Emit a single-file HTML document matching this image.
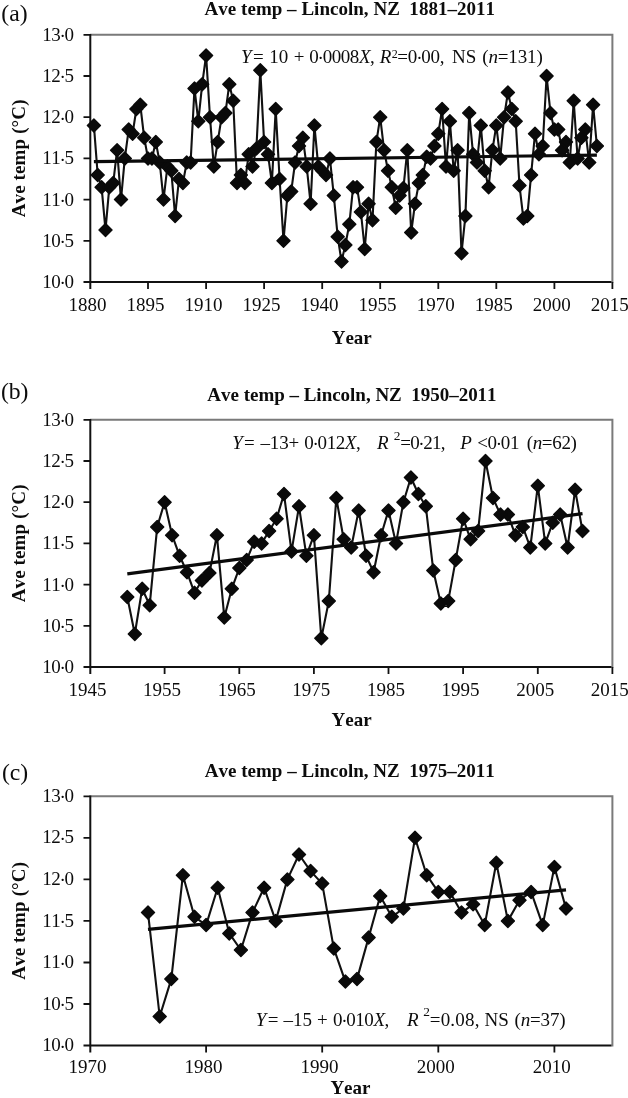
<!DOCTYPE html>
<html lang="en"><head><meta charset="utf-8"><title>Ave temp - Lincoln, NZ</title>
<style>
html,body{margin:0;padding:0;background:#fff;overflow:hidden;}
svg{display:block;}
text{font-family:"Liberation Serif",serif;fill:#0c0c0c;font-kerning:none;}
.tk{font-size:19px;}
.b{font-weight:bold;font-size:19px;}
.tag{font-size:23.7px;}
.eq{font-size:19px;}
.supa{font-size:12px;}
.supb{font-size:13.4px;}
.i{font-style:italic;}
</style></head><body>
<svg width="628" height="1098" viewBox="0 0 628 1098">
<rect width="628" height="1098" fill="#fff"/>
<g><path d="M90.0 34.8H612.4V283.0" fill="none" stroke="#7a7a7a" stroke-width="2" stroke-linejoin="miter"/>
<path d="M90.3 34.0V289.0" fill="none" stroke="#111" stroke-width="2"/>
<path d="M83.5 282.0H611.5" fill="none" stroke="#111" stroke-width="2"/>
<text class="tk" x="42.3" y="40.7" textLength="31.6">13<tspan dx="-0.79" dy="1.4">·</tspan><tspan dx="-0.79" dy="-1.4">0</tspan></text>
<text class="tk" x="42.3" y="81.9" textLength="31.6">12<tspan dx="-0.79" dy="1.4">·</tspan><tspan dx="-0.79" dy="-1.4">5</tspan></text>
<text class="tk" x="42.3" y="123.1" textLength="31.6">12<tspan dx="-0.79" dy="1.4">·</tspan><tspan dx="-0.79" dy="-1.4">0</tspan></text>
<text class="tk" x="42.3" y="164.3" textLength="31.6">11<tspan dx="-0.79" dy="1.4">·</tspan><tspan dx="-0.79" dy="-1.4">5</tspan></text>
<text class="tk" x="42.3" y="205.5" textLength="31.6">11<tspan dx="-0.79" dy="1.4">·</tspan><tspan dx="-0.79" dy="-1.4">0</tspan></text>
<text class="tk" x="42.3" y="246.7" textLength="31.6">10<tspan dx="-0.79" dy="1.4">·</tspan><tspan dx="-0.79" dy="-1.4">5</tspan></text>
<text class="tk" x="42.3" y="287.9" textLength="31.6">10<tspan dx="-0.79" dy="1.4">·</tspan><tspan dx="-0.79" dy="-1.4">0</tspan></text>
<text class="tk" x="87.4" y="311.0" text-anchor="middle">1880</text>
<text class="tk" x="145.4" y="311.0" text-anchor="middle">1895</text>
<text class="tk" x="203.5" y="311.0" text-anchor="middle">1910</text>
<text class="tk" x="261.5" y="311.0" text-anchor="middle">1925</text>
<text class="tk" x="319.6" y="311.0" text-anchor="middle">1940</text>
<text class="tk" x="377.6" y="311.0" text-anchor="middle">1955</text>
<text class="tk" x="435.7" y="311.0" text-anchor="middle">1970</text>
<text class="tk" x="493.7" y="311.0" text-anchor="middle">1985</text>
<text class="tk" x="551.8" y="311.0" text-anchor="middle">2000</text>
<text class="tk" x="609.8" y="311.0" text-anchor="middle">2015</text>
<path d="M83.5 34.8H90.0M83.5 76.0H90.0M83.5 117.2H90.0M83.5 158.4H90.0M83.5 199.6H90.0M83.5 240.8H90.0M148.0 282.0V289.0M206.1 282.0V289.0M264.1 282.0V289.0M322.2 282.0V289.0M380.2 282.0V289.0M438.3 282.0V289.0M496.3 282.0V289.0M554.4 282.0V289.0M612.4 282.0V289.0" fill="none" stroke="#111" stroke-width="1.8"/>
<polyline points="93.9,125.4 97.7,174.9 101.6,187.2 105.5,230.1 109.3,187.2 113.2,183.1 117.1,150.2 121.0,199.6 124.8,158.4 128.7,129.6 132.6,133.7 136.4,109.0 140.3,104.8 144.2,137.8 148.0,158.4 151.9,158.4 155.8,141.9 159.7,162.5 163.5,199.6 167.4,166.6 171.3,170.8 175.1,216.1 179.0,179.0 182.9,183.1 186.7,162.5 190.6,162.5 194.5,88.4 198.3,121.3 202.2,84.2 206.1,55.4 210.0,117.2 213.8,166.6 217.7,141.9 221.6,117.2 225.4,113.1 229.3,84.2 233.2,100.7 237.0,183.1 240.9,174.9 244.8,183.1 248.7,154.3 252.5,166.6 256.4,148.5 260.3,70.2 264.1,141.9 268.0,154.3 271.9,183.1 275.7,109.0 279.6,179.0 283.5,240.8 287.4,195.5 291.2,191.4 295.1,162.5 299.0,146.0 302.8,137.8 306.7,166.6 310.6,203.7 314.4,125.4 318.3,166.6 322.2,170.8 326.0,174.9 329.9,158.4 333.8,195.5 337.7,236.7 341.5,261.4 345.4,244.9 349.3,224.3 353.1,187.2 357.0,187.2 360.9,212.0 364.7,249.0 368.6,203.7 372.5,220.2 376.4,141.9 380.2,117.2 384.1,150.2 388.0,170.8 391.8,187.2 395.7,207.8 399.6,195.5 403.4,188.1 407.3,150.2 411.2,232.6 415.0,203.7 418.9,183.1 422.8,174.9 426.7,156.8 430.5,158.4 434.4,146.0 438.3,133.7 442.1,109.0 446.0,166.6 449.9,121.3 453.7,170.8 457.6,150.2 461.5,253.2 465.4,216.1 469.2,113.1 473.1,154.3 477.0,162.5 480.8,125.4 484.7,170.8 488.6,187.2 492.4,150.2 496.3,125.4 500.2,158.4 504.1,117.2 507.9,92.5 511.8,109.0 515.7,121.3 519.5,185.6 523.4,218.6 527.3,216.1 531.1,174.9 535.0,133.7 538.9,154.3 542.7,146.0 546.6,76.0 550.5,113.1 554.4,129.6 558.2,129.6 562.1,150.2 566.0,141.9 569.8,162.5 573.7,100.7 577.6,158.4 581.4,137.8 585.3,129.6 589.2,162.5 593.1,104.8 596.9,146.0" fill="none" stroke="#111" stroke-width="2.1" stroke-linejoin="round"/>
<path d="M93.9 118.9l6.5 6.5l-6.5 6.5l-6.5 -6.5zM97.7 168.4l6.5 6.5l-6.5 6.5l-6.5 -6.5zM101.6 180.7l6.5 6.5l-6.5 6.5l-6.5 -6.5zM105.5 223.6l6.5 6.5l-6.5 6.5l-6.5 -6.5zM109.3 180.7l6.5 6.5l-6.5 6.5l-6.5 -6.5zM113.2 176.6l6.5 6.5l-6.5 6.5l-6.5 -6.5zM117.1 143.7l6.5 6.5l-6.5 6.5l-6.5 -6.5zM121.0 193.1l6.5 6.5l-6.5 6.5l-6.5 -6.5zM124.8 151.9l6.5 6.5l-6.5 6.5l-6.5 -6.5zM128.7 123.1l6.5 6.5l-6.5 6.5l-6.5 -6.5zM132.6 127.2l6.5 6.5l-6.5 6.5l-6.5 -6.5zM136.4 102.5l6.5 6.5l-6.5 6.5l-6.5 -6.5zM140.3 98.3l6.5 6.5l-6.5 6.5l-6.5 -6.5zM144.2 131.3l6.5 6.5l-6.5 6.5l-6.5 -6.5zM148.0 151.9l6.5 6.5l-6.5 6.5l-6.5 -6.5zM151.9 151.9l6.5 6.5l-6.5 6.5l-6.5 -6.5zM155.8 135.4l6.5 6.5l-6.5 6.5l-6.5 -6.5zM159.7 156.0l6.5 6.5l-6.5 6.5l-6.5 -6.5zM163.5 193.1l6.5 6.5l-6.5 6.5l-6.5 -6.5zM167.4 160.1l6.5 6.5l-6.5 6.5l-6.5 -6.5zM171.3 164.3l6.5 6.5l-6.5 6.5l-6.5 -6.5zM175.1 209.6l6.5 6.5l-6.5 6.5l-6.5 -6.5zM179.0 172.5l6.5 6.5l-6.5 6.5l-6.5 -6.5zM182.9 176.6l6.5 6.5l-6.5 6.5l-6.5 -6.5zM186.7 156.0l6.5 6.5l-6.5 6.5l-6.5 -6.5zM190.6 156.0l6.5 6.5l-6.5 6.5l-6.5 -6.5zM194.5 81.9l6.5 6.5l-6.5 6.5l-6.5 -6.5zM198.3 114.8l6.5 6.5l-6.5 6.5l-6.5 -6.5zM202.2 77.7l6.5 6.5l-6.5 6.5l-6.5 -6.5zM206.1 48.9l6.5 6.5l-6.5 6.5l-6.5 -6.5zM210.0 110.7l6.5 6.5l-6.5 6.5l-6.5 -6.5zM213.8 160.1l6.5 6.5l-6.5 6.5l-6.5 -6.5zM217.7 135.4l6.5 6.5l-6.5 6.5l-6.5 -6.5zM221.6 110.7l6.5 6.5l-6.5 6.5l-6.5 -6.5zM225.4 106.6l6.5 6.5l-6.5 6.5l-6.5 -6.5zM229.3 77.7l6.5 6.5l-6.5 6.5l-6.5 -6.5zM233.2 94.2l6.5 6.5l-6.5 6.5l-6.5 -6.5zM237.0 176.6l6.5 6.5l-6.5 6.5l-6.5 -6.5zM240.9 168.4l6.5 6.5l-6.5 6.5l-6.5 -6.5zM244.8 176.6l6.5 6.5l-6.5 6.5l-6.5 -6.5zM248.7 147.8l6.5 6.5l-6.5 6.5l-6.5 -6.5zM252.5 160.1l6.5 6.5l-6.5 6.5l-6.5 -6.5zM256.4 142.0l6.5 6.5l-6.5 6.5l-6.5 -6.5zM260.3 63.7l6.5 6.5l-6.5 6.5l-6.5 -6.5zM264.1 135.4l6.5 6.5l-6.5 6.5l-6.5 -6.5zM268.0 147.8l6.5 6.5l-6.5 6.5l-6.5 -6.5zM271.9 176.6l6.5 6.5l-6.5 6.5l-6.5 -6.5zM275.7 102.5l6.5 6.5l-6.5 6.5l-6.5 -6.5zM279.6 172.5l6.5 6.5l-6.5 6.5l-6.5 -6.5zM283.5 234.3l6.5 6.5l-6.5 6.5l-6.5 -6.5zM287.4 189.0l6.5 6.5l-6.5 6.5l-6.5 -6.5zM291.2 184.9l6.5 6.5l-6.5 6.5l-6.5 -6.5zM295.1 156.0l6.5 6.5l-6.5 6.5l-6.5 -6.5zM299.0 139.5l6.5 6.5l-6.5 6.5l-6.5 -6.5zM302.8 131.3l6.5 6.5l-6.5 6.5l-6.5 -6.5zM306.7 160.1l6.5 6.5l-6.5 6.5l-6.5 -6.5zM310.6 197.2l6.5 6.5l-6.5 6.5l-6.5 -6.5zM314.4 118.9l6.5 6.5l-6.5 6.5l-6.5 -6.5zM318.3 160.1l6.5 6.5l-6.5 6.5l-6.5 -6.5zM322.2 164.3l6.5 6.5l-6.5 6.5l-6.5 -6.5zM326.0 168.4l6.5 6.5l-6.5 6.5l-6.5 -6.5zM329.9 151.9l6.5 6.5l-6.5 6.5l-6.5 -6.5zM333.8 189.0l6.5 6.5l-6.5 6.5l-6.5 -6.5zM337.7 230.2l6.5 6.5l-6.5 6.5l-6.5 -6.5zM341.5 254.9l6.5 6.5l-6.5 6.5l-6.5 -6.5zM345.4 238.4l6.5 6.5l-6.5 6.5l-6.5 -6.5zM349.3 217.8l6.5 6.5l-6.5 6.5l-6.5 -6.5zM353.1 180.7l6.5 6.5l-6.5 6.5l-6.5 -6.5zM357.0 180.7l6.5 6.5l-6.5 6.5l-6.5 -6.5zM360.9 205.5l6.5 6.5l-6.5 6.5l-6.5 -6.5zM364.7 242.5l6.5 6.5l-6.5 6.5l-6.5 -6.5zM368.6 197.2l6.5 6.5l-6.5 6.5l-6.5 -6.5zM372.5 213.7l6.5 6.5l-6.5 6.5l-6.5 -6.5zM376.4 135.4l6.5 6.5l-6.5 6.5l-6.5 -6.5zM380.2 110.7l6.5 6.5l-6.5 6.5l-6.5 -6.5zM384.1 143.7l6.5 6.5l-6.5 6.5l-6.5 -6.5zM388.0 164.3l6.5 6.5l-6.5 6.5l-6.5 -6.5zM391.8 180.7l6.5 6.5l-6.5 6.5l-6.5 -6.5zM395.7 201.3l6.5 6.5l-6.5 6.5l-6.5 -6.5zM399.6 189.0l6.5 6.5l-6.5 6.5l-6.5 -6.5zM403.4 181.6l6.5 6.5l-6.5 6.5l-6.5 -6.5zM407.3 143.7l6.5 6.5l-6.5 6.5l-6.5 -6.5zM411.2 226.1l6.5 6.5l-6.5 6.5l-6.5 -6.5zM415.0 197.2l6.5 6.5l-6.5 6.5l-6.5 -6.5zM418.9 176.6l6.5 6.5l-6.5 6.5l-6.5 -6.5zM422.8 168.4l6.5 6.5l-6.5 6.5l-6.5 -6.5zM426.7 150.3l6.5 6.5l-6.5 6.5l-6.5 -6.5zM430.5 151.9l6.5 6.5l-6.5 6.5l-6.5 -6.5zM434.4 139.5l6.5 6.5l-6.5 6.5l-6.5 -6.5zM438.3 127.2l6.5 6.5l-6.5 6.5l-6.5 -6.5zM442.1 102.5l6.5 6.5l-6.5 6.5l-6.5 -6.5zM446.0 160.1l6.5 6.5l-6.5 6.5l-6.5 -6.5zM449.9 114.8l6.5 6.5l-6.5 6.5l-6.5 -6.5zM453.7 164.3l6.5 6.5l-6.5 6.5l-6.5 -6.5zM457.6 143.7l6.5 6.5l-6.5 6.5l-6.5 -6.5zM461.5 246.7l6.5 6.5l-6.5 6.5l-6.5 -6.5zM465.4 209.6l6.5 6.5l-6.5 6.5l-6.5 -6.5zM469.2 106.6l6.5 6.5l-6.5 6.5l-6.5 -6.5zM473.1 147.8l6.5 6.5l-6.5 6.5l-6.5 -6.5zM477.0 156.0l6.5 6.5l-6.5 6.5l-6.5 -6.5zM480.8 118.9l6.5 6.5l-6.5 6.5l-6.5 -6.5zM484.7 164.3l6.5 6.5l-6.5 6.5l-6.5 -6.5zM488.6 180.7l6.5 6.5l-6.5 6.5l-6.5 -6.5zM492.4 143.7l6.5 6.5l-6.5 6.5l-6.5 -6.5zM496.3 118.9l6.5 6.5l-6.5 6.5l-6.5 -6.5zM500.2 151.9l6.5 6.5l-6.5 6.5l-6.5 -6.5zM504.1 110.7l6.5 6.5l-6.5 6.5l-6.5 -6.5zM507.9 86.0l6.5 6.5l-6.5 6.5l-6.5 -6.5zM511.8 102.5l6.5 6.5l-6.5 6.5l-6.5 -6.5zM515.7 114.8l6.5 6.5l-6.5 6.5l-6.5 -6.5zM519.5 179.1l6.5 6.5l-6.5 6.5l-6.5 -6.5zM523.4 212.1l6.5 6.5l-6.5 6.5l-6.5 -6.5zM527.3 209.6l6.5 6.5l-6.5 6.5l-6.5 -6.5zM531.1 168.4l6.5 6.5l-6.5 6.5l-6.5 -6.5zM535.0 127.2l6.5 6.5l-6.5 6.5l-6.5 -6.5zM538.9 147.8l6.5 6.5l-6.5 6.5l-6.5 -6.5zM542.7 139.5l6.5 6.5l-6.5 6.5l-6.5 -6.5zM546.6 69.5l6.5 6.5l-6.5 6.5l-6.5 -6.5zM550.5 106.6l6.5 6.5l-6.5 6.5l-6.5 -6.5zM554.4 123.1l6.5 6.5l-6.5 6.5l-6.5 -6.5zM558.2 123.1l6.5 6.5l-6.5 6.5l-6.5 -6.5zM562.1 143.7l6.5 6.5l-6.5 6.5l-6.5 -6.5zM566.0 135.4l6.5 6.5l-6.5 6.5l-6.5 -6.5zM569.8 156.0l6.5 6.5l-6.5 6.5l-6.5 -6.5zM573.7 94.2l6.5 6.5l-6.5 6.5l-6.5 -6.5zM577.6 151.9l6.5 6.5l-6.5 6.5l-6.5 -6.5zM581.4 131.3l6.5 6.5l-6.5 6.5l-6.5 -6.5zM585.3 123.1l6.5 6.5l-6.5 6.5l-6.5 -6.5zM589.2 156.0l6.5 6.5l-6.5 6.5l-6.5 -6.5zM593.1 98.3l6.5 6.5l-6.5 6.5l-6.5 -6.5zM596.9 139.5l6.5 6.5l-6.5 6.5l-6.5 -6.5z" fill="#0a0a0a" stroke="#0a0a0a" stroke-width="1.4" stroke-linejoin="round"/>
<path d="M93.9 161.7L596.9 155.1" stroke="#0a0a0a" stroke-width="3.2" fill="none"/>
<text class="tag" x="1.3" y="20.9">(a)</text>
<text class="b" x="204.6" y="14.8" textLength="290.4" xml:space="preserve">Ave temp – Lincoln, NZ  1881–2011</text>
<text class="b" x="331.7" y="343.8">Year</text>
<text class="b" transform="translate(24.7 158.4) rotate(-90)" text-anchor="middle" textLength="117.8">Ave temp (°C)</text></g>
<g><path d="M90.0 419.8H612.4V668.0" fill="none" stroke="#7a7a7a" stroke-width="2" stroke-linejoin="miter"/>
<path d="M90.3 419.0V674.0" fill="none" stroke="#111" stroke-width="2"/>
<path d="M83.5 667.0H611.5" fill="none" stroke="#111" stroke-width="2"/>
<text class="tk" x="42.3" y="425.7" textLength="31.6">13<tspan dx="-0.79" dy="1.4">·</tspan><tspan dx="-0.79" dy="-1.4">0</tspan></text>
<text class="tk" x="42.3" y="466.9" textLength="31.6">12<tspan dx="-0.79" dy="1.4">·</tspan><tspan dx="-0.79" dy="-1.4">5</tspan></text>
<text class="tk" x="42.3" y="508.1" textLength="31.6">12<tspan dx="-0.79" dy="1.4">·</tspan><tspan dx="-0.79" dy="-1.4">0</tspan></text>
<text class="tk" x="42.3" y="549.3" textLength="31.6">11<tspan dx="-0.79" dy="1.4">·</tspan><tspan dx="-0.79" dy="-1.4">5</tspan></text>
<text class="tk" x="42.3" y="590.5" textLength="31.6">11<tspan dx="-0.79" dy="1.4">·</tspan><tspan dx="-0.79" dy="-1.4">0</tspan></text>
<text class="tk" x="42.3" y="631.7" textLength="31.6">10<tspan dx="-0.79" dy="1.4">·</tspan><tspan dx="-0.79" dy="-1.4">5</tspan></text>
<text class="tk" x="42.3" y="672.9" textLength="31.6">10<tspan dx="-0.79" dy="1.4">·</tspan><tspan dx="-0.79" dy="-1.4">0</tspan></text>
<text class="tk" x="87.4" y="696.2" text-anchor="middle">1945</text>
<text class="tk" x="162.0" y="696.2" text-anchor="middle">1955</text>
<text class="tk" x="236.7" y="696.2" text-anchor="middle">1965</text>
<text class="tk" x="311.3" y="696.2" text-anchor="middle">1975</text>
<text class="tk" x="385.9" y="696.2" text-anchor="middle">1985</text>
<text class="tk" x="460.5" y="696.2" text-anchor="middle">1995</text>
<text class="tk" x="535.2" y="696.2" text-anchor="middle">2005</text>
<text class="tk" x="609.8" y="696.2" text-anchor="middle">2015</text>
<path d="M83.5 419.8H90.0M83.5 461.0H90.0M83.5 502.2H90.0M83.5 543.4H90.0M83.5 584.6H90.0M83.5 625.8H90.0M164.6 667.0V674.0M239.3 667.0V674.0M313.9 667.0V674.0M388.5 667.0V674.0M463.1 667.0V674.0M537.8 667.0V674.0M612.4 667.0V674.0" fill="none" stroke="#111" stroke-width="1.8"/>
<polyline points="127.3,597.0 134.8,634.0 142.2,588.7 149.7,605.2 157.2,526.9 164.6,502.2 172.1,535.2 179.6,555.8 187.0,572.2 194.5,592.8 201.9,580.5 209.4,573.1 216.9,535.2 224.3,617.6 231.8,588.7 239.3,568.1 246.7,559.9 254.2,541.8 261.6,543.4 269.1,531.0 276.6,518.7 284.0,494.0 291.5,551.6 299.0,506.3 306.4,555.8 313.9,535.2 321.3,638.2 328.8,601.1 336.3,498.1 343.7,539.3 351.2,547.5 358.7,510.4 366.1,555.8 373.6,572.2 381.1,535.2 388.5,510.4 396.0,543.4 403.4,502.2 410.9,477.5 418.4,494.0 425.8,506.3 433.3,570.6 440.8,603.6 448.2,601.1 455.7,559.9 463.1,518.7 470.6,539.3 478.1,531.0 485.5,461.0 493.0,498.1 500.5,514.6 507.9,514.6 515.4,535.2 522.8,526.9 530.3,547.5 537.8,485.7 545.2,543.4 552.7,522.8 560.2,514.6 567.6,547.5 575.1,489.8 582.5,531.0" fill="none" stroke="#111" stroke-width="2.1" stroke-linejoin="round"/>
<path d="M127.3 590.5l6.5 6.5l-6.5 6.5l-6.5 -6.5zM134.8 627.5l6.5 6.5l-6.5 6.5l-6.5 -6.5zM142.2 582.2l6.5 6.5l-6.5 6.5l-6.5 -6.5zM149.7 598.7l6.5 6.5l-6.5 6.5l-6.5 -6.5zM157.2 520.4l6.5 6.5l-6.5 6.5l-6.5 -6.5zM164.6 495.7l6.5 6.5l-6.5 6.5l-6.5 -6.5zM172.1 528.7l6.5 6.5l-6.5 6.5l-6.5 -6.5zM179.6 549.3l6.5 6.5l-6.5 6.5l-6.5 -6.5zM187.0 565.7l6.5 6.5l-6.5 6.5l-6.5 -6.5zM194.5 586.3l6.5 6.5l-6.5 6.5l-6.5 -6.5zM201.9 574.0l6.5 6.5l-6.5 6.5l-6.5 -6.5zM209.4 566.6l6.5 6.5l-6.5 6.5l-6.5 -6.5zM216.9 528.7l6.5 6.5l-6.5 6.5l-6.5 -6.5zM224.3 611.1l6.5 6.5l-6.5 6.5l-6.5 -6.5zM231.8 582.2l6.5 6.5l-6.5 6.5l-6.5 -6.5zM239.3 561.6l6.5 6.5l-6.5 6.5l-6.5 -6.5zM246.7 553.4l6.5 6.5l-6.5 6.5l-6.5 -6.5zM254.2 535.3l6.5 6.5l-6.5 6.5l-6.5 -6.5zM261.6 536.9l6.5 6.5l-6.5 6.5l-6.5 -6.5zM269.1 524.5l6.5 6.5l-6.5 6.5l-6.5 -6.5zM276.6 512.2l6.5 6.5l-6.5 6.5l-6.5 -6.5zM284.0 487.5l6.5 6.5l-6.5 6.5l-6.5 -6.5zM291.5 545.1l6.5 6.5l-6.5 6.5l-6.5 -6.5zM299.0 499.8l6.5 6.5l-6.5 6.5l-6.5 -6.5zM306.4 549.3l6.5 6.5l-6.5 6.5l-6.5 -6.5zM313.9 528.7l6.5 6.5l-6.5 6.5l-6.5 -6.5zM321.3 631.7l6.5 6.5l-6.5 6.5l-6.5 -6.5zM328.8 594.6l6.5 6.5l-6.5 6.5l-6.5 -6.5zM336.3 491.6l6.5 6.5l-6.5 6.5l-6.5 -6.5zM343.7 532.8l6.5 6.5l-6.5 6.5l-6.5 -6.5zM351.2 541.0l6.5 6.5l-6.5 6.5l-6.5 -6.5zM358.7 503.9l6.5 6.5l-6.5 6.5l-6.5 -6.5zM366.1 549.3l6.5 6.5l-6.5 6.5l-6.5 -6.5zM373.6 565.7l6.5 6.5l-6.5 6.5l-6.5 -6.5zM381.1 528.7l6.5 6.5l-6.5 6.5l-6.5 -6.5zM388.5 503.9l6.5 6.5l-6.5 6.5l-6.5 -6.5zM396.0 536.9l6.5 6.5l-6.5 6.5l-6.5 -6.5zM403.4 495.7l6.5 6.5l-6.5 6.5l-6.5 -6.5zM410.9 471.0l6.5 6.5l-6.5 6.5l-6.5 -6.5zM418.4 487.5l6.5 6.5l-6.5 6.5l-6.5 -6.5zM425.8 499.8l6.5 6.5l-6.5 6.5l-6.5 -6.5zM433.3 564.1l6.5 6.5l-6.5 6.5l-6.5 -6.5zM440.8 597.1l6.5 6.5l-6.5 6.5l-6.5 -6.5zM448.2 594.6l6.5 6.5l-6.5 6.5l-6.5 -6.5zM455.7 553.4l6.5 6.5l-6.5 6.5l-6.5 -6.5zM463.1 512.2l6.5 6.5l-6.5 6.5l-6.5 -6.5zM470.6 532.8l6.5 6.5l-6.5 6.5l-6.5 -6.5zM478.1 524.5l6.5 6.5l-6.5 6.5l-6.5 -6.5zM485.5 454.5l6.5 6.5l-6.5 6.5l-6.5 -6.5zM493.0 491.6l6.5 6.5l-6.5 6.5l-6.5 -6.5zM500.5 508.1l6.5 6.5l-6.5 6.5l-6.5 -6.5zM507.9 508.1l6.5 6.5l-6.5 6.5l-6.5 -6.5zM515.4 528.7l6.5 6.5l-6.5 6.5l-6.5 -6.5zM522.8 520.4l6.5 6.5l-6.5 6.5l-6.5 -6.5zM530.3 541.0l6.5 6.5l-6.5 6.5l-6.5 -6.5zM537.8 479.2l6.5 6.5l-6.5 6.5l-6.5 -6.5zM545.2 536.9l6.5 6.5l-6.5 6.5l-6.5 -6.5zM552.7 516.3l6.5 6.5l-6.5 6.5l-6.5 -6.5zM560.2 508.1l6.5 6.5l-6.5 6.5l-6.5 -6.5zM567.6 541.0l6.5 6.5l-6.5 6.5l-6.5 -6.5zM575.1 483.3l6.5 6.5l-6.5 6.5l-6.5 -6.5zM582.5 524.5l6.5 6.5l-6.5 6.5l-6.5 -6.5z" fill="#0a0a0a" stroke="#0a0a0a" stroke-width="1.4" stroke-linejoin="round"/>
<path d="M127.3 573.9L582.5 513.7" stroke="#0a0a0a" stroke-width="3.2" fill="none"/>
<text class="tag" x="0.9" y="398.9">(b)</text>
<text class="b" x="207.3" y="400.5" textLength="289.3" xml:space="preserve">Ave temp – Lincoln, NZ  1950–2011</text>
<text class="b" x="331.5" y="725.7">Year</text>
<text class="b" transform="translate(24.7 543.4) rotate(-90)" text-anchor="middle" textLength="117.8">Ave temp (°C)</text></g>
<g><path d="M90.0 796.3H612.4V1046.6" fill="none" stroke="#7a7a7a" stroke-width="2" stroke-linejoin="miter"/>
<path d="M90.3 795.5V1052.6" fill="none" stroke="#111" stroke-width="2"/>
<path d="M83.5 1045.6H611.5" fill="none" stroke="#111" stroke-width="2"/>
<text class="tk" x="42.3" y="801.9" textLength="31.6">13<tspan dx="-0.79" dy="1.4">·</tspan><tspan dx="-0.79" dy="-1.4">0</tspan></text>
<text class="tk" x="42.3" y="843.4" textLength="31.6">12<tspan dx="-0.79" dy="1.4">·</tspan><tspan dx="-0.79" dy="-1.4">5</tspan></text>
<text class="tk" x="42.3" y="885.0" textLength="31.6">12<tspan dx="-0.79" dy="1.4">·</tspan><tspan dx="-0.79" dy="-1.4">0</tspan></text>
<text class="tk" x="42.3" y="926.5" textLength="31.6">11<tspan dx="-0.79" dy="1.4">·</tspan><tspan dx="-0.79" dy="-1.4">5</tspan></text>
<text class="tk" x="42.3" y="968.1" textLength="31.6">11<tspan dx="-0.79" dy="1.4">·</tspan><tspan dx="-0.79" dy="-1.4">0</tspan></text>
<text class="tk" x="42.3" y="1009.6" textLength="31.6">10<tspan dx="-0.79" dy="1.4">·</tspan><tspan dx="-0.79" dy="-1.4">5</tspan></text>
<text class="tk" x="42.3" y="1051.2" textLength="31.6">10<tspan dx="-0.79" dy="1.4">·</tspan><tspan dx="-0.79" dy="-1.4">0</tspan></text>
<text class="tk" x="87.4" y="1073.1" text-anchor="middle">1970</text>
<text class="tk" x="203.5" y="1073.1" text-anchor="middle">1980</text>
<text class="tk" x="319.6" y="1073.1" text-anchor="middle">1990</text>
<text class="tk" x="435.7" y="1073.1" text-anchor="middle">2000</text>
<text class="tk" x="551.8" y="1073.1" text-anchor="middle">2010</text>
<path d="M83.5 796.3H90.0M83.5 837.8H90.0M83.5 879.4H90.0M83.5 920.9H90.0M83.5 962.5H90.0M83.5 1004.0H90.0M206.1 1045.6V1052.6M322.2 1045.6V1052.6M438.3 1045.6V1052.6M554.4 1045.6V1052.6" fill="none" stroke="#111" stroke-width="1.8"/>
<polyline points="148.0,912.6 159.7,1016.5 171.3,979.1 182.9,875.2 194.5,916.8 206.1,925.1 217.7,887.7 229.3,933.4 240.9,950.0 252.5,912.6 264.1,887.7 275.7,920.9 287.4,879.4 299.0,854.5 310.6,871.1 322.2,883.6 333.8,948.4 345.4,981.6 357.0,979.1 368.6,937.6 380.2,896.0 391.8,916.8 403.4,908.5 415.0,837.8 426.7,875.2 438.3,891.9 449.9,891.9 461.5,912.6 473.1,904.3 484.7,925.1 496.3,862.8 507.9,920.9 519.5,900.2 531.1,891.9 542.7,925.1 554.4,866.9 566.0,908.5" fill="none" stroke="#111" stroke-width="2.1" stroke-linejoin="round"/>
<path d="M148.0 906.1l6.5 6.5l-6.5 6.5l-6.5 -6.5zM159.7 1010.0l6.5 6.5l-6.5 6.5l-6.5 -6.5zM171.3 972.6l6.5 6.5l-6.5 6.5l-6.5 -6.5zM182.9 868.7l6.5 6.5l-6.5 6.5l-6.5 -6.5zM194.5 910.3l6.5 6.5l-6.5 6.5l-6.5 -6.5zM206.1 918.6l6.5 6.5l-6.5 6.5l-6.5 -6.5zM217.7 881.2l6.5 6.5l-6.5 6.5l-6.5 -6.5zM229.3 926.9l6.5 6.5l-6.5 6.5l-6.5 -6.5zM240.9 943.5l6.5 6.5l-6.5 6.5l-6.5 -6.5zM252.5 906.1l6.5 6.5l-6.5 6.5l-6.5 -6.5zM264.1 881.2l6.5 6.5l-6.5 6.5l-6.5 -6.5zM275.7 914.4l6.5 6.5l-6.5 6.5l-6.5 -6.5zM287.4 872.9l6.5 6.5l-6.5 6.5l-6.5 -6.5zM299.0 848.0l6.5 6.5l-6.5 6.5l-6.5 -6.5zM310.6 864.6l6.5 6.5l-6.5 6.5l-6.5 -6.5zM322.2 877.1l6.5 6.5l-6.5 6.5l-6.5 -6.5zM333.8 941.9l6.5 6.5l-6.5 6.5l-6.5 -6.5zM345.4 975.1l6.5 6.5l-6.5 6.5l-6.5 -6.5zM357.0 972.6l6.5 6.5l-6.5 6.5l-6.5 -6.5zM368.6 931.1l6.5 6.5l-6.5 6.5l-6.5 -6.5zM380.2 889.5l6.5 6.5l-6.5 6.5l-6.5 -6.5zM391.8 910.3l6.5 6.5l-6.5 6.5l-6.5 -6.5zM403.4 902.0l6.5 6.5l-6.5 6.5l-6.5 -6.5zM415.0 831.3l6.5 6.5l-6.5 6.5l-6.5 -6.5zM426.7 868.7l6.5 6.5l-6.5 6.5l-6.5 -6.5zM438.3 885.4l6.5 6.5l-6.5 6.5l-6.5 -6.5zM449.9 885.4l6.5 6.5l-6.5 6.5l-6.5 -6.5zM461.5 906.1l6.5 6.5l-6.5 6.5l-6.5 -6.5zM473.1 897.8l6.5 6.5l-6.5 6.5l-6.5 -6.5zM484.7 918.6l6.5 6.5l-6.5 6.5l-6.5 -6.5zM496.3 856.3l6.5 6.5l-6.5 6.5l-6.5 -6.5zM507.9 914.4l6.5 6.5l-6.5 6.5l-6.5 -6.5zM519.5 893.7l6.5 6.5l-6.5 6.5l-6.5 -6.5zM531.1 885.4l6.5 6.5l-6.5 6.5l-6.5 -6.5zM542.7 918.6l6.5 6.5l-6.5 6.5l-6.5 -6.5zM554.4 860.4l6.5 6.5l-6.5 6.5l-6.5 -6.5zM566.0 902.0l6.5 6.5l-6.5 6.5l-6.5 -6.5z" fill="#0a0a0a" stroke="#0a0a0a" stroke-width="1.4" stroke-linejoin="round"/>
<path d="M148.0 929.3L566.0 889.8" stroke="#0a0a0a" stroke-width="3.2" fill="none"/>
<text class="tag" x="1.9" y="780.3">(c)</text>
<text class="b" x="204.8" y="776.8" textLength="290.0" xml:space="preserve">Ave temp – Lincoln, NZ  1975–2011</text>
<text class="b" x="330.4" y="1093.5">Year</text>
<text class="b" transform="translate(24.7 920.9) rotate(-90)" text-anchor="middle" textLength="117.8">Ave temp (°C)</text></g>
<g>
<text class="eq" x="240.99" y="63.0"><tspan class="i">Y</tspan></text>
<text class="eq" x="253.02" y="63.0">=</text>
<text class="eq" x="269.35" y="63.0">10</text>
<text class="eq" x="293.72" y="63.0">+</text>
<text class="eq" x="309.26" y="63.0" textLength="65.58">0<tspan dx="-0.79" dy="1.4">·</tspan><tspan dx="-0.79" dy="-1.4">0</tspan>008<tspan class="i">X</tspan>,</text>
<text class="eq" x="379.64" y="63.0"><tspan class="i">R</tspan></text>
<text class="eq supa" x="391.66" y="57.7">2</text>
<text class="eq" x="397.3" y="63.0" textLength="47.23">=0<tspan dx="-0.79" dy="1.4">·</tspan><tspan dx="-0.79" dy="-1.4">0</tspan>0,</text>
<text class="eq" x="452.12" y="63.0">NS</text>
<text class="eq" x="482.2" y="63.0" textLength="60.51">(<tspan class="i">n</tspan>=131)</text>
</g>
<g>
<text class="eq" x="232.34" y="448.9"><tspan class="i">Y</tspan></text>
<text class="eq" x="244.07" y="448.9">=</text>
<text class="eq" x="260.54" y="448.9" textLength="38.71">–13+</text>
<text class="eq" x="304.16" y="448.9" textLength="56.62">0<tspan dx="-0.79" dy="1.4">·</tspan><tspan dx="-0.79" dy="-1.4">0</tspan>12<tspan class="i">X</tspan>,</text>
<text class="eq" x="376.89" y="448.9"><tspan class="i">R</tspan></text>
<text class="eq supb" x="393.63" y="439.5">2</text>
<text class="eq" x="400.3" y="448.9" textLength="45.24">=0<tspan dx="-0.79" dy="1.4">·</tspan><tspan dx="-0.79" dy="-1.4">2</tspan>1,</text>
<text class="eq" x="460.24" y="448.9"><tspan class="i">P</tspan></text>
<text class="eq" x="477.18" y="448.9" textLength="42.27">&lt;0<tspan dx="-0.79" dy="1.4">·</tspan><tspan dx="-0.79" dy="-1.4">0</tspan>1</text>
<text class="eq" x="526.7" y="448.9" textLength="50.24">(<tspan class="i">n</tspan>=62)</text>
</g>
<g>
<text class="eq" x="255.74" y="1025.8"><tspan class="i">Y</tspan></text>
<text class="eq" x="267.87" y="1025.8">=</text>
<text class="eq" x="283.58" y="1025.8">–15</text>
<text class="eq" x="316.92" y="1025.8">+</text>
<text class="eq" x="332.96" y="1025.8" textLength="56.35">0<tspan dx="-0.79" dy="1.4">·</tspan><tspan dx="-0.79" dy="-1.4">0</tspan>10<tspan class="i">X</tspan>,</text>
<text class="eq" x="406.89" y="1025.8"><tspan class="i">R</tspan></text>
<text class="eq supb" x="423.13" y="1016.3">2</text>
<text class="eq" x="429.7" y="1025.8" textLength="49.78">=0.08,</text>
<text class="eq" x="484.52" y="1025.8">NS</text>
<text class="eq" x="514.6" y="1025.8" textLength="50.97">(<tspan class="i">n</tspan>=37)</text>
</g>
</svg></body></html>
